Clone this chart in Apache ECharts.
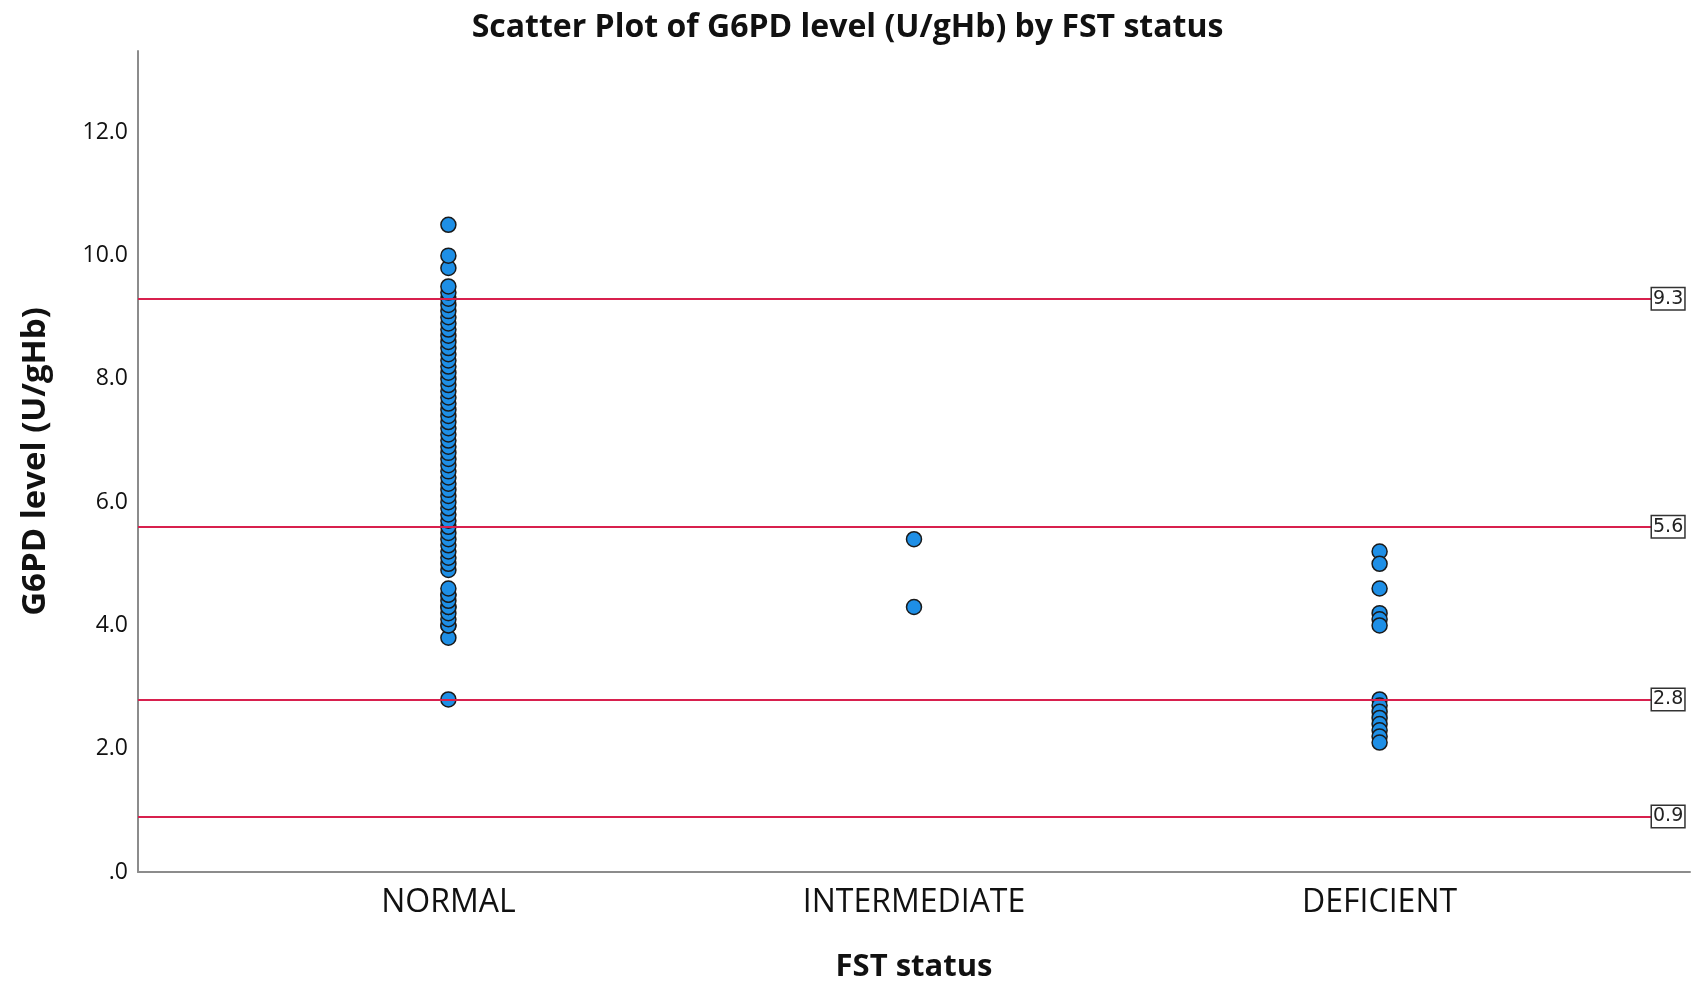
<!DOCTYPE html>
<html>
<head>
<meta charset="utf-8">
<script src="https://cdn.jsdelivr.net/npm/echarts@6/dist/echarts.min.js"></script>
<style>
  html, body { margin: 0; padding: 0; background: #fff; }
  #chart { width: 1695px; height: 988px; }
</style>
</head>
<body>
<div id="chart"></div>
<script>
// ---- data ----
const categories = ['NORMAL', 'INTERMEDIATE', 'DEFICIENT'];
const normalValues = [
  2.8, 3.8, 4.0, 4.0, 4.1, 4.2, 4.3, 4.3, 4.4, 4.5, 4.5, 4.6,
  4.9, 5.0, 5.1, 5.2, 5.3, 5.4, 5.5, 5.6, 5.7, 5.8, 5.9, 6.0,
  6.1, 6.2, 6.3, 6.4, 6.5, 6.6, 6.7, 6.8, 6.9, 7.0, 7.1, 7.2,
  7.3, 7.4, 7.5, 7.6, 7.7, 7.8, 7.9, 8.0, 8.1, 8.2, 8.3, 8.4,
  8.5, 8.6, 8.7, 8.8, 8.9, 9.0, 9.1, 9.2, 9.3, 9.4, 9.5,
  9.8, 10.0, 10.5
];
const intermediateValues = [5.4, 4.3];
const deficientValues = [5.2, 5.0, 4.6, 4.2, 4.1, 4.0, 2.8, 2.7, 2.6, 2.5, 2.4, 2.3, 2.2, 2.1];
const referenceValues = [9.3, 5.6, 2.8, 0.9];
const yTicks = [0, 2, 4, 6, 8, 10, 12];

// ---- layout helpers ----
const xMin = -2 / 3, xMax = 8 / 3;
const gridLeft = 138, gridRight = 5;
const plotW = 1695 - gridLeft - gridRight;
const lineEndPx = 1652 - gridLeft;
const lineEnd = xMin + (xMax - xMin) * lineEndPx / plotW;

const groups = [normalValues, intermediateValues, deficientValues];
const pointData = [];
groups.forEach((vals, i) => vals.forEach(v => pointData.push([i, v])));

const FONT = 'Open Sans';
const chart = echarts.init(document.getElementById('chart'), null, { renderer: 'canvas' });
chart.setOption({
  backgroundColor: '#ffffff',
  animation: false,
  title: {
    text: 'Scatter Plot of G6PD level (U/gHb) by FST status',
    left: 'center',
    top: 7,
    textStyle: { fontFamily: FONT, fontWeight: 'bold', fontSize: 32, color: '#111' }
  },
  grid: { left: gridLeft, right: gridRight, top: 51, bottom: 112, containLabel: false },
  xAxis: {
    type: 'value',
    min: xMin,
    max: xMax,
    name: 'FST status',
    nameLocation: 'middle',
    nameGap: 80,
    nameTextStyle: { fontFamily: FONT, fontWeight: 'bold', fontSize: 31, color: '#111' },
    axisLine: { show: true, onZero: false, lineStyle: { color: '#8c8c8c', width: 2 } },
    axisTick: { show: false },
    splitLine: { show: false },
    axisLabel: {
      customValues: [0, 1, 2],
      formatter: v => categories[Math.round(v)] || '',
      fontFamily: FONT, fontSize: 32, color: '#111', margin: 15
    }
  },
  yAxis: {
    type: 'value',
    min: 0,
    max: 13.32,
    interval: 2,
    name: 'G6PD level (U/gHb)',
    nameLocation: 'middle',
    nameGap: 86,
    nameTextStyle: { fontFamily: FONT, fontWeight: 'bold', fontSize: 33, color: '#111' },
    axisLine: { show: true, onZero: false, lineStyle: { color: '#8c8c8c', width: 2 } },
    axisTick: { show: false },
    splitLine: { show: false },
    axisLabel: {
      customValues: yTicks,
      formatter: v => (v === 0 ? '.0' : v.toFixed(1)),
      fontFamily: FONT, fontSize: 23, color: '#111', margin: 10
    }
  },
  series: [{
    type: 'scatter',
    data: pointData,
    symbol: 'circle',
    symbolSize: 15,
    itemStyle: { color: '#1e8fe6', borderColor: '#1a1a1a', borderWidth: 1.5, opacity: 1 },
    markLine: {
      silent: true,
      symbol: 'none',
      animation: false,
      lineStyle: { color: '#d8204e', width: 2, type: 'solid' },
      label: {
        show: true,
        position: 'end',
        distance: 0,
        formatter: p => p.value.toFixed(1),
        fontFamily: 'DejaVu Sans', fontSize: 19, color: '#222',
        backgroundColor: '#fff', borderColor: '#333', borderWidth: 1.5,
        padding: [2, 1, 0, 1]
      },
      data: referenceValues.map(v => [
        { coord: [xMin, v], value: v },
        { coord: [lineEnd, v], value: v }
      ])
    }
  }]
});
</script>
</body>
</html>
